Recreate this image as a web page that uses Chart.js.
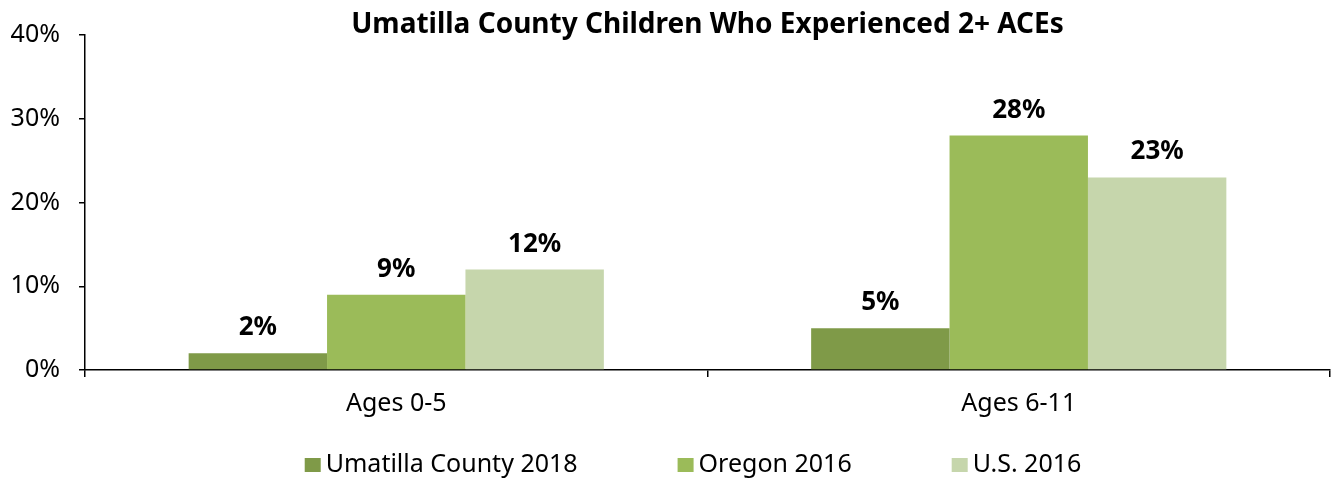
<!DOCTYPE html>
<html>
<head>
<meta charset="utf-8">
<script src="https://cdn.jsdelivr.net/npm/chart.js@4.4.1/dist/chart.umd.min.js"></script>
<style>
  html, body { margin: 0; padding: 0; background: #fff; }
  #wrap { width: 1333px; height: 481px; }
</style>
</head>
<body>
<div id="wrap"><canvas id="aceChart" width="1333" height="481"></canvas></div>
<script>
const categories = ["Ages 0-5", "Ages 6-11"];
const seriesNames = ["Umatilla County 2018", "Oregon 2016", "U.S. 2016"];
const umatilla = [2, 5];
const oregon = [9, 28];
const us = [12, 23];
const yTicks = [0, 10, 20, 30, 40];
const colors = ["#7F9A48", "#9BBB59", "#C6D6AC"];

const FONT = "'Noto Sans', 'Open Sans', sans-serif";
const chartTitle = "Umatilla County Children Who Experienced 2+ ACEs";

// Title, value labels and legend drawn by hand
const extras = {
  id: "extras",
  afterDatasetsDraw(chart) {
    const ctx = chart.ctx;
    ctx.save();
    ctx.fillStyle = "#000";
    ctx.textAlign = "center";
    ctx.textBaseline = "alphabetic";
    ctx.font = "bold 26px " + FONT;
    chart.data.datasets.forEach((ds, i) => {
      chart.getDatasetMeta(i).data.forEach((bar, j) => {
        ctx.fillText(ds.data[j] + "%", bar.x, bar.y - 18);
      });
    });
    ctx.restore();
  },
  afterDraw(chart) {
    const ctx = chart.ctx;
    const area = chart.chartArea;
    ctx.save();
    ctx.fillStyle = "#000";
    ctx.textAlign = "center";
    ctx.textBaseline = "alphabetic";
    ctx.font = "bold 28px " + FONT;
    ctx.fillText(chartTitle, (area.left + area.right) / 2, 33);

    // legend
    ctx.font = "25px " + FONT;
    const boxW = 16, boxH = 14, gapText = 5, gapItem = 100;
    const widths = seriesNames.map(n => boxW + gapText + ctx.measureText(n).width);
    const total = widths.reduce((a, b) => a + b, 0) + gapItem * (widths.length - 1);
    let x = 693 - total / 2;
    const y = 465;
    ctx.textAlign = "left";
    ctx.textBaseline = "middle";
    seriesNames.forEach((n, i) => {
      ctx.fillStyle = colors[i];
      ctx.fillRect(x, y - boxH / 2, boxW, boxH);
      ctx.fillStyle = "#000";
      ctx.fillText(n, x + boxW + gapText, y);
      x += widths[i] + gapItem;
    });
    ctx.restore();
  }
};

new Chart(document.getElementById("aceChart"), {
  type: "bar",
  data: {
    labels: categories,
    datasets: [
      { label: seriesNames[0], data: umatilla, backgroundColor: colors[0] },
      { label: seriesNames[1], data: oregon, backgroundColor: colors[1] },
      { label: seriesNames[2], data: us, backgroundColor: colors[2] }
    ]
  },
  options: {
    responsive: false,
    animation: false,
    categoryPercentage: 0.667,
    barPercentage: 1,
    layout: { padding: { top: 35, right: 3, bottom: 50, left: 0 } },
    plugins: {
      legend: { display: false },
      title: { display: false },
      tooltip: { enabled: false }
    },
    scales: {
      x: {
        grid: { drawOnChartArea: false, color: "#000", tickLength: 7, lineWidth: 1.5 },
        border: { color: "#000", width: 1.5 },
        ticks: { color: "#000", padding: 12, font: { family: FONT, size: 25 } }
      },
      y: {
        min: 0,
        max: 40,
        afterFit(scale) { scale.width = 85; },
        afterBuildTicks(scale) { scale.ticks = yTicks.map(v => ({ value: v })); },
        grid: { drawOnChartArea: false, color: "#000", tickLength: 6, lineWidth: 1.5 },
        border: { color: "#000", width: 1.5 },
        ticks: {
          color: "#000",
          padding: 19,
          font: { family: FONT, size: 25 },
          callback: v => v + "%"
        }
      }
    }
  },
  plugins: [extras]
});
</script>
</body>
</html>
